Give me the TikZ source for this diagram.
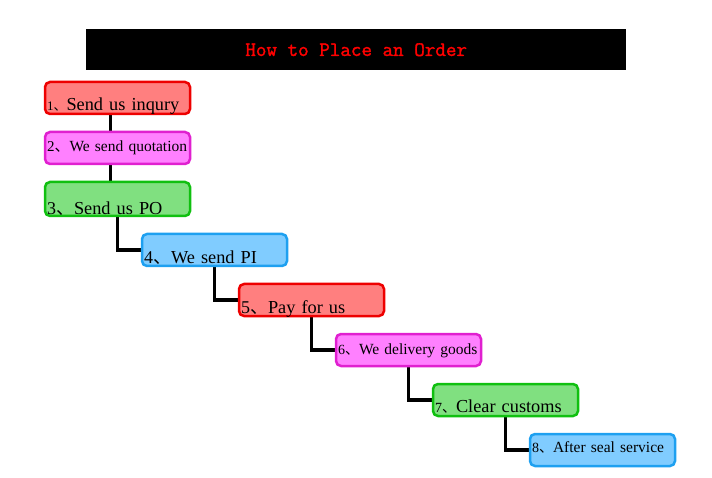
\documentclass[tikz,border=0pt]{standalone}
\usepackage{fontspec}
\setmainfont{Liberation Serif}
\newfontfamily\cjk{Noto Sans CJK SC}
\newfontfamily\titlefont[FakeBold=1.5]{Latin Modern Mono}
\usetikzlibrary{positioning,backgrounds}

\definecolor{redfill}{HTML}{FF7F7F}
\definecolor{redline}{HTML}{EE0000}
\definecolor{pinkfill}{HTML}{FF80FF}
\definecolor{pinkline}{HTML}{E020D0}
\definecolor{greenfill}{HTML}{80E080}
\definecolor{greenline}{HTML}{10C010}
\definecolor{bluefill}{HTML}{80CCFF}
\definecolor{blueline}{HTML}{1EA0F0}

\newcommand{\stepno}[2]{{\fontsize{#2}{#2}\selectfont #1\cjk 、}}

\begin{document}
\begin{tikzpicture}[
    x=1pt, y=-1pt,
    box/.style={draw, line width=2.5pt, rounded corners=5pt, anchor=north west,
                minimum width=145pt, minimum height=32pt, outer sep=0pt,
                inner xsep=2pt, inner ysep=0pt, text width=141pt, align=left},
    drop/.style={text height=#1, text depth=0pt},
    redbox/.style={box, fill=redfill, draw=redline},
    pinkbox/.style={box, fill=pinkfill, draw=pinkline},
    greenbox/.style={box, fill=greenfill, draw=greenline},
    bluebox/.style={box, fill=bluefill, draw=blueline},
    big/.style={font=\fontsize{18.3}{18.3}\selectfont},
    small/.style={font=\fontsize{15.5}{15.5}\selectfont},
    link/.style={line width=3.5pt, draw=black},
]
\useasboundingbox (0,0) rectangle (712,478);

% Title
\node[fill=black, anchor=north west, minimum width=540pt, minimum height=41pt,
      inner sep=0pt, text=red, font=\fontsize{20.5}{20.5}\titlefont]
    (title) at (86,29) {How to Place an Order};

% Step 1
\node[redbox, big, drop=26pt] (inquiry) at (45,82) {\stepno{1}{13}Send us inqury};
% Step 2
\node[pinkbox, small, drop=7pt, below=18pt of inquiry] (quote) {\stepno{2}{15}We send quotation};
% Step 3
\node[greenbox, big, drop=31pt, minimum height=34pt, below=18pt of quote] (order) {\stepno{3}{18}Send us PO};
% Step 4
\node[bluebox, big, drop=27pt] (pi) at ([shift={(97pt,-18pt)}]order.south west) {\stepno{4}{18}We send PI};
% Step 5
\node[redbox, big, drop=27pt] (pay) at ([shift={(97pt,-18pt)}]pi.south west) {\stepno{5}{18}Pay for us};
% Step 6
\node[pinkbox, small, drop=9pt] (deliver) at ([shift={(97pt,-18pt)}]pay.south west) {\stepno{6}{14}We delivery goods};
% Step 7
\node[greenbox, big, drop=25pt] (customs) at ([shift={(97pt,-18pt)}]deliver.south west) {\stepno{7}{14}Clear customs};
% Step 8
\node[bluebox, small, drop=5pt] (service) at ([shift={(97pt,-18pt)}]customs.south west) {\stepno{8}{14}After seal service};

% Links
\begin{scope}[on background layer]
\draw[link] ([xshift=-7pt]inquiry.south) -- ([xshift=-7pt]quote.north);
\draw[link] ([xshift=-7pt]quote.south) -- ([xshift=-7pt]order.north);
\draw[link] (order.south) |- (pi.west);
\draw[link] (pi.south) |- (pay.west);
\draw[link] (pay.south) |- (deliver.west);
\draw[link] (deliver.south) |- (customs.west);
\draw[link] (customs.south) |- (service.west);
\end{scope}

\end{tikzpicture}
\end{document}
